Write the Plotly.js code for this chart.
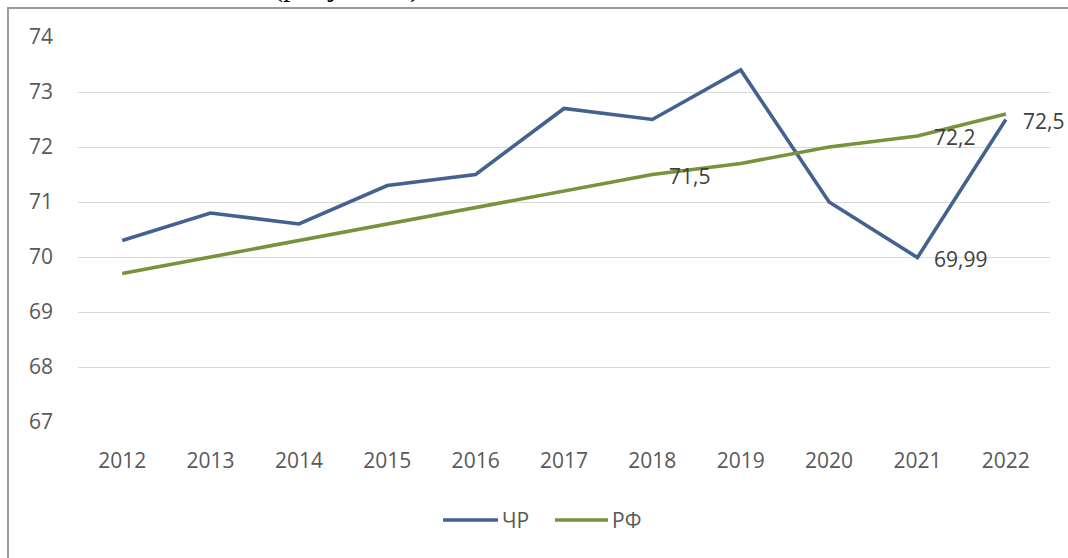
<!DOCTYPE html>
<html>
<head>
<meta charset="utf-8">
<script src="https://cdn.plot.ly/plotly-3.0.1.min.js"></script>
<style>
  html, body { margin: 0; padding: 0; background: #ffffff; }
  #wrap { position: relative; width: 1068px; height: 558px; overflow: hidden; }
  #chart { position: absolute; left: 0; top: 0; width: 1068px; height: 558px; }
  #frame { position: absolute; left: 7px; top: 7px; width: 1070px; height: 560px;
           border-top: 2px solid #9a9a9a; border-left: 2px solid #9a9a9a; pointer-events: none; }
  #cut { position: absolute; left: 0; top: 0; width: 1068px; height: 7px; overflow: hidden; }
  #cut span { position: absolute; left: 273px; top: -29px; font-family: "Liberation Serif", serif;
              font-size: 30px; line-height: 30px; color: #000; white-space: nowrap; }
</style>
</head>
<body>
<div id="wrap">
  <div id="chart"></div>
  <div id="frame"></div>
  <div id="cut"><span>(рисунок 1)</span></div>
</div>
<script>
// ---- data ----
const years = ["2012","2013","2014","2015","2016","2017","2018","2019","2020","2021","2022"];
const chr = [70.3, 70.8, 70.6, 71.3, 71.5, 72.7, 72.5, 73.4, 71.0, 69.99, 72.5];
const rf  = [69.7, 70.0, 70.3, 70.6, 70.9, 71.2, 71.5, 71.7, 72.0, 72.2, 72.6];
const seriesNames = ["ЧР", "РФ"];
// which points carry a data label: [series index, point index]
const labelled = [[1, 6], [1, 9], [0, 9], [0, 10]];

const fontFam = '"Open Sans", "Noto Sans", sans-serif';
const colors = ["#44628f", "#77933c"];
const all = [chr, rf];

const traces = all.map((v, i) => ({
  x: years, y: v, type: "scatter", mode: "lines", name: seriesNames[i],
  line: { color: colors[i], width: 3.6 },
  hoverinfo: "skip", showlegend: false
}));

const annotations = labelled.map(([s, p]) => ({
  x: p, y: all[s][p], xref: "x", yref: "y",
  text: String(all[s][p]).replace(".", ","),
  showarrow: false, xanchor: "left", yanchor: "middle", xshift: 15, yshift: -1,
  font: { family: fontFam, size: 21, color: "#404040" }
}));

// custom legend (long line samples like the reference)
const plotL = 78, plotW = 972, plotB = 422, plotH = 385;
const px = v => (v - plotL) / plotW;
const py = v => (plotB - v) / plotH;
const legendItems = [
  { x0: 443, x1: 498, tx: 500 },
  { x0: 555, x1: 608, tx: 610 }
];
const legendY = 520;
const shapes = legendItems.map((it, i) => ({
  type: "line", xref: "paper", yref: "paper",
  x0: px(it.x0), x1: px(it.x1), y0: py(legendY), y1: py(legendY),
  line: { color: colors[i], width: 3.6 }
}));
legendItems.forEach((it, i) => annotations.push({
  xref: "paper", yref: "paper", x: px(it.tx), y: py(legendY),
  xanchor: "left", yanchor: "middle", showarrow: false, text: seriesNames[i],
  font: { family: fontFam, size: 21, color: "#595959" }
}));

const layout = {
  width: 1068, height: 558,
  paper_bgcolor: "#ffffff", plot_bgcolor: "#ffffff",
  margin: { l: 78, r: 18, t: 37, b: 136 },
  showlegend: false,
  xaxis: {
    type: "category", range: [-0.5, 10.5], showgrid: false, zeroline: false,
    showline: false, ticks: "", ticklabelstandoff: 24,
    tickfont: { family: fontFam, size: 21, color: "#595959" }
  },
  yaxis: {
    range: [67, 74], dtick: 1, tick0: 67, showgrid: true, gridcolor: "#d9d9d9", gridwidth: 1,
    zeroline: false, showline: false, ticks: "", ticklabelstandoff: 24,
    tickfont: { family: fontFam, size: 21, color: "#595959" }
  },
  shapes: shapes,
  annotations: annotations
};

Plotly.newPlot("chart", traces, layout, { displayModeBar: false, staticPlot: true });
</script>
</body>
</html>
